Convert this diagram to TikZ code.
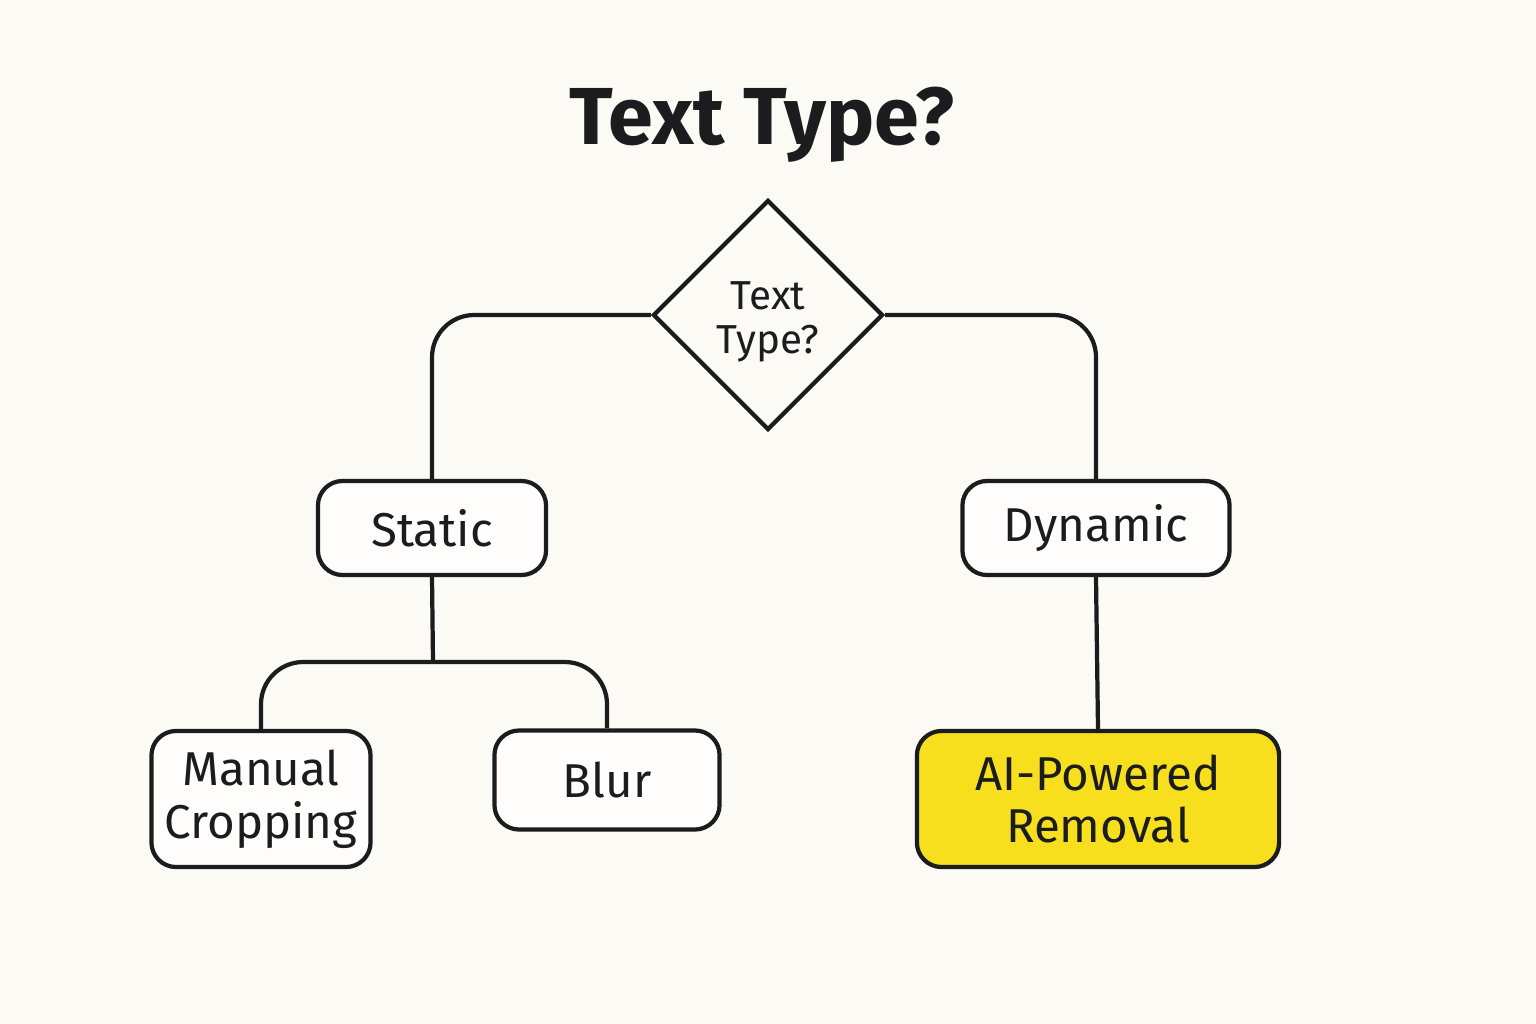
\documentclass[tikz,border=0pt]{standalone}
\usepackage{fontspec}
\setmainfont{Fira Sans}
\usetikzlibrary{shapes.geometric}
\definecolor{bgcream}{HTML}{FCFAF5}
\definecolor{aiyellow}{HTML}{F7DF1E}
\definecolor{inkdark}{HTML}{1A1C1E}
\tikzset{
  choicebox/.style={draw=inkdark, line width=1.2pt, rounded corners=7pt, fill=white!60!bgcream,
    align=center, font=\fontsize{13.5}{15}\selectfont, text=inkdark, inner sep=0pt},
  link/.style={draw=inkdark, line width=1.2pt, rounded corners=12pt}
}
\begin{document}
\begin{tikzpicture}[x=0.01cm,y=-0.01cm]
  \fill[bgcream] (0,0) rectangle (1536,1024);
  \useasboundingbox (0,0) rectangle (1536,1024);

  \node[font=\fontsize{23}{28}\selectfont\bfseries, text=inkdark] (title) at (762,125) {Text Type?};

  \node[diamond, draw=inkdark, line width=1.2pt, minimum width=2.3cm, minimum height=2.3cm,
        inner sep=0pt, align=center, font=\fontsize{11.5}{12.5}\selectfont, text=inkdark,
        fill=bgcream, aspect=1] (question) at (768,315) {};
  \node[align=center, font=\fontsize{11.5}{12.5}\selectfont, text=inkdark] (qtext) at (768,322) {Text\\Type?};

  \node[choicebox, minimum width=2.28cm, minimum height=0.94cm] (static) at (432,528) {Static};
  \node[choicebox, minimum width=2.67cm, minimum height=0.94cm] (dynamic) at (1096,528) {Dynamic};
  \node[choicebox, minimum width=2.19cm, minimum height=1.36cm] (manual) at (261,799) {Manual\\Cropping};
  \node[choicebox, minimum width=2.25cm, minimum height=0.99cm] (blur) at (607,780) {Blur};
  \node[choicebox, fill=aiyellow, minimum width=3.62cm, minimum height=1.36cm] (ai) at (1098,799) {AI-Powered\\Removal};

  % connectors
  \coordinate (split) at (433,662);
  \draw[link] (question.west) -| (static.north);
  \draw[link] (question.east) -| (dynamic.north);
  \draw[link] (static.south) -- (split);
  \draw[link] (manual.north) |- (split) -| (blur.north);
  \draw[link] (dynamic.south) -- (ai.north);
\end{tikzpicture}
\end{document}
